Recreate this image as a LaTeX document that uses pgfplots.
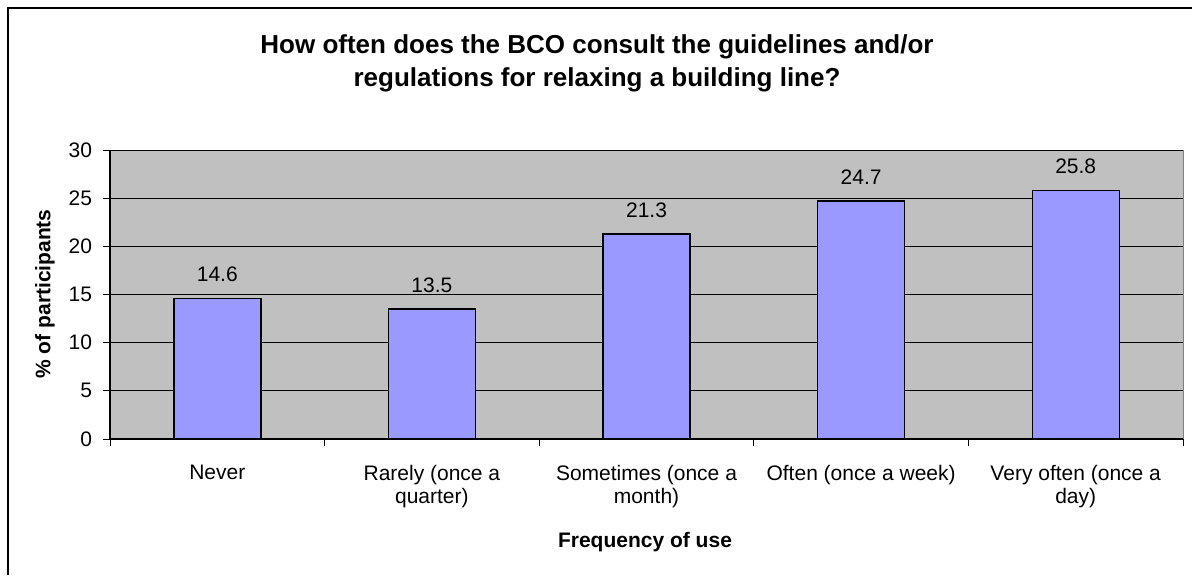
\documentclass[border=0pt]{standalone}
\usepackage{pgfplots}
\pgfplotsset{compat=1.18}
\usepackage{fontspec}
\setmainfont{Liberation Sans}
\definecolor{plotgray}{HTML}{C0C0C0}
\definecolor{barblue}{HTML}{9999FF}
\begin{document}
\begin{tikzpicture}[x=1pt,y=1pt]
\useasboundingbox (0,0) rectangle (596,287.5);
\draw[line width=0.75pt] (4,0) -- (4,283.5) -- (596,283.5);
\begin{axis}[
  at={(55pt,68pt)}, anchor=south west,
  scale only axis, width=536.5pt, height=144.5pt,
  xmin=-0.5, xmax=4.5, ymin=0, ymax=30,
  ytick={0,5,...,30},
  xtick={0,1,2,3,4},
  xticklabels={Never, {Rarely (once a\\quarter)}, {Sometimes (once a\\month)}, {Often (once a week)}, {Very often (once a\\day)}},
  minor xtick={-0.5,0.5,1.5,2.5,3.5,4.5},
  tick align=outside,
  major tick length=3.5pt, minor tick length=3.5pt,
  xtick pos=bottom, ytick pos=left,
  x tick style={draw=none},
  minor x tick style={draw=black, line width=0.5pt},
  y tick style={draw=black, line width=0.5pt},
  axis x line*=bottom, axis y line*=left,
  axis line style={-, black, line width=0.6pt},
  axis background/.style={fill=plotgray, draw=gray},
  ymajorgrids, major grid style={black, line width=0.5pt},
  /pgf/number format/assume math mode=true,
  ticklabel style={font=\fontsize{10.5}{11.5}\selectfont},
  xticklabel style={align=center, yshift=-6pt},
  yticklabel style={xshift=-2pt},
  ybar, bar width=43.5pt,
  nodes near coords,
  every node near coord/.append style={font=\fontsize{10.5}{12}\selectfont, anchor=south, yshift=4.5pt},
]
\addplot[fill=barblue, draw=black, line width=0.7pt] coordinates {(0,14.6) (1,13.5) (2,21.3) (3,24.7) (4,25.8)};
\end{axis}
\node[font=\fontsize{13}{16.5}\selectfont\bfseries, align=center] at (298.5,255.75) {How often does the BCO consult the guidelines and/or\\regulations for relaxing a building line?};
\node[font=\fontsize{10.5}{12}\selectfont\bfseries] at (322.5,16.5) {Frequency of use};
\node[font=\fontsize{10.5}{12}\selectfont\bfseries, rotate=90] at (22.5,140.5) {\% of participants};
\end{tikzpicture}
\end{document}
